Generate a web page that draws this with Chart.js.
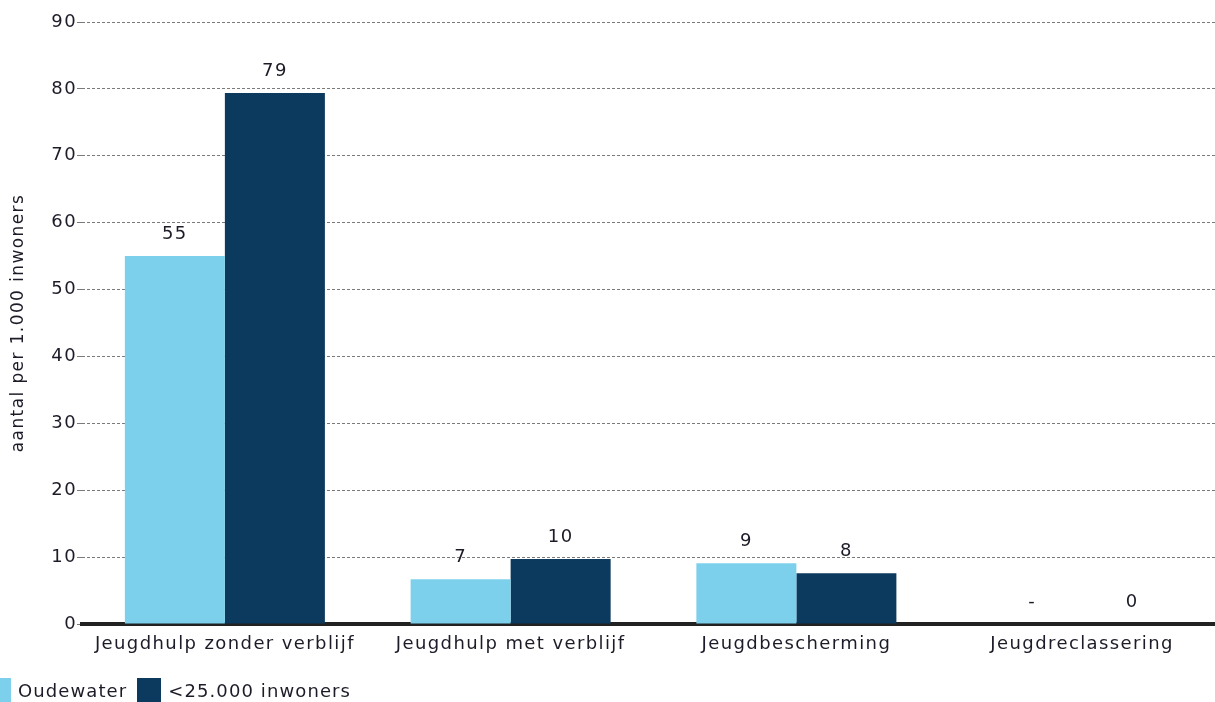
<!DOCTYPE html>
<html>
<head>
<meta charset="utf-8">
<script src="https://cdn.jsdelivr.net/npm/chart.js@4/dist/chart.umd.min.js"></script>
<style>
  html, body { margin: 0; padding: 0; background: #fff; overflow: hidden; }
  #wrap { position: relative; width: 1225px; height: 702px; }
  #legend { position: absolute; left: -13px; top: 678px; font: 18px 'DejaVu Sans', Verdana, sans-serif; letter-spacing: 1.1px; color: #1c1c28; display: flex; align-items: center; }
  #legend span.box { display: inline-block; width: 24px; height: 24px; margin-right: 7px; }
  #legend span.txt { margin-right: 10px; }
</style>
</head>
<body>
<div id="wrap">
  <canvas id="c" width="1225" height="702"></canvas>
  <div id="legend"></div>
</div>
<script>
// Jeugdzorg per 1.000 inwoners: Oudewater vs gemeenten < 25.000 inwoners
const CATEGORIES = ['Jeugdhulp zonder verblijf', 'Jeugdhulp met verblijf', 'Jeugdbescherming', 'Jeugdreclassering'];
const OUDEWATER = [55, 6.7, 9.1, null];
const KLEIN = [79.4, 9.7, 7.6, 0];
const SERIES_NAMES = ['Oudewater', '<25.000 inwoners'];
const Y_TICKS = [0, 10, 20, 30, 40, 50, 60, 70, 80, 90];

const COLOR_LIGHT = '#7dd0ec';
const COLOR_DARK = '#0c3a5e';
const TEXT = '#1c1c28';
const FONT = "'DejaVu Sans', Verdana, sans-serif";

// iets ruimere letterafstand, zoals het origineel (Verdana-achtig)
const spacing = {
  id: 'spacing',
  beforeInit(chart) { chart.ctx.letterSpacing = '1.4px'; },
  beforeUpdate(chart) { chart.ctx.letterSpacing = '1.4px'; },
  beforeDraw(chart) { chart.ctx.letterSpacing = '1.4px'; },
};

// waarden boven de staven, '-' voor ontbrekende waarde
const valueLabels = {
  id: 'valueLabels',
  afterDatasetsDraw(chart) {
    const { ctx } = chart;
    const y0 = chart.scales.y.getPixelForValue(0);
    ctx.save();
    ctx.font = `18px ${FONT}`;
    ctx.fillStyle = TEXT;
    ctx.textAlign = 'center';
    ctx.textBaseline = 'middle';
    chart.data.datasets.forEach((ds, di) => {
      chart.getDatasetMeta(di).data.forEach((bar, i) => {
        const v = ds.data[i];
        const top = v == null ? y0 : bar.y;
        const txt = v == null ? '-' : String(Math.round(v));
        ctx.fillText(txt, bar.x, top - 22);
      });
    });
    ctx.restore();
  },
};

new Chart(document.getElementById('c'), {
  type: 'bar',
  data: {
    labels: CATEGORIES,
    datasets: [
      { label: SERIES_NAMES[0], data: OUDEWATER, backgroundColor: COLOR_LIGHT },
      { label: SERIES_NAMES[1], data: KLEIN, backgroundColor: COLOR_DARK },
    ],
  },
  options: {
    responsive: false,
    animation: false,
    layout: { padding: { top: 22, bottom: 38, left: 0, right: 0 } },
    datasets: { bar: { categoryPercentage: 0.7, barPercentage: 1.0 } },
    plugins: { legend: { display: false }, tooltip: { enabled: false } },
    scales: {
      x: {
        grid: { display: false },
        border: { color: '#222', width: 4 },
        ticks: { color: TEXT, font: { family: FONT, size: 18 }, padding: 2, maxRotation: 0 },
        afterFit: (s) => { s.height = 40; },
      },
      y: {
        min: 0,
        max: 90,
        afterBuildTicks: (s) => { s.ticks = Y_TICKS.map((v) => ({ value: v })); },
        grid: { color: '#7a7a7a', lineWidth: 1, tickLength: 5 },
        border: { display: false, dash: [3, 2] },
        ticks: { color: TEXT, font: { family: FONT, size: 18 }, padding: 0 },
        title: { display: true, text: 'aantal per 1.000 inwoners', color: TEXT, font: { family: FONT, size: 17 }, padding: { top: 8, bottom: 4 } },
        afterFit: (s) => { s.width = 82; },
      },
    },
  },
  plugins: [spacing, valueLabels],
});

const legend = document.getElementById('legend');
[COLOR_LIGHT, COLOR_DARK].forEach((col, i) => {
  const b = document.createElement('span');
  b.className = 'box';
  b.style.background = col;
  const t = document.createElement('span');
  t.className = 'txt';
  t.textContent = SERIES_NAMES[i];
  legend.appendChild(b);
  legend.appendChild(t);
});
</script>
</body>
</html>
